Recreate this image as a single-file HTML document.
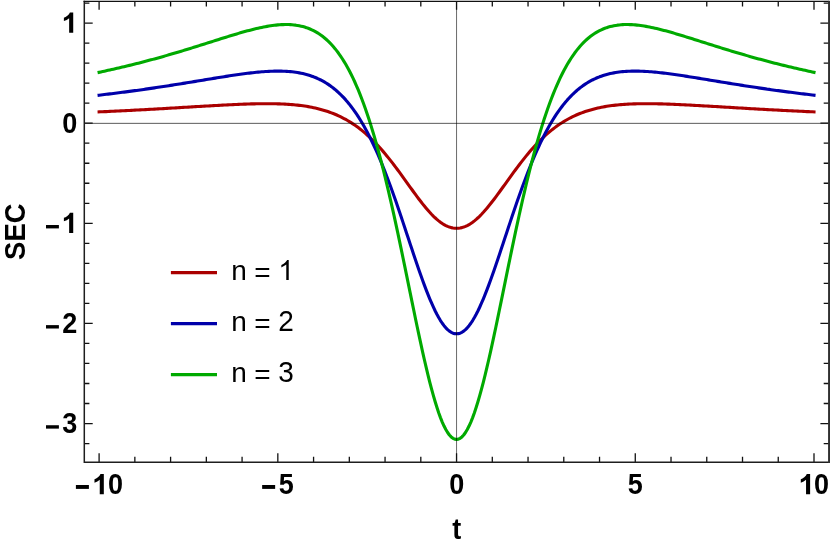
<!DOCTYPE html>
<html><head><meta charset="utf-8"><title>SEC plot</title>
<style>html,body{margin:0;padding:0;background:#fff}svg{display:block;will-change:transform}text{font-family:"Liberation Sans",sans-serif;font-size:28px;fill:#000}.b{font-weight:bold}</style></head><body>
<svg width="830" height="545" viewBox="0 0 830 545">
<rect width="830" height="545" fill="#fff"/>
<path d="M99.10,111.91 L100.89,111.82 L102.67,111.74 L104.46,111.66 L106.25,111.58 L108.04,111.49 L109.82,111.41 L111.61,111.32 L113.40,111.24 L115.19,111.15 L116.97,111.06 L118.76,110.98 L120.55,110.89 L122.33,110.80 L124.12,110.71 L125.91,110.62 L127.70,110.53 L129.48,110.44 L131.27,110.34 L133.06,110.25 L134.85,110.16 L136.63,110.06 L138.42,109.97 L140.21,109.87 L141.99,109.77 L143.78,109.68 L145.57,109.58 L147.36,109.48 L149.14,109.38 L150.93,109.28 L152.72,109.18 L154.50,109.08 L156.29,108.98 L158.08,108.88 L159.87,108.78 L161.65,108.68 L163.44,108.58 L165.23,108.47 L167.02,108.37 L168.80,108.26 L170.59,108.16 L172.38,108.05 L174.16,107.95 L175.95,107.84 L177.74,107.74 L179.53,107.63 L181.31,107.53 L183.10,107.42 L184.89,107.31 L186.68,107.21 L188.46,107.10 L190.25,106.99 L192.04,106.89 L193.82,106.78 L195.61,106.67 L197.40,106.57 L199.19,106.46 L200.97,106.36 L202.76,106.25 L204.55,106.15 L206.34,106.04 L208.12,105.94 L209.91,105.84 L211.70,105.73 L213.48,105.63 L215.27,105.53 L217.06,105.43 L218.85,105.34 L220.63,105.24 L222.42,105.14 L224.21,105.05 L225.99,104.96 L227.78,104.87 L229.57,104.78 L231.36,104.69 L233.14,104.61 L234.93,104.52 L236.72,104.44 L238.51,104.37 L240.29,104.29 L242.08,104.22 L243.87,104.16 L245.65,104.09 L247.44,104.03 L249.23,103.97 L251.02,103.92 L252.80,103.87 L254.59,103.83 L256.38,103.79 L258.17,103.76 L259.95,103.73 L261.74,103.71 L263.53,103.69 L265.31,103.69 L267.10,103.68 L268.89,103.69 L270.68,103.70 L272.46,103.72 L274.25,103.75 L276.04,103.79 L277.83,103.84 L279.61,103.90 L281.40,103.96 L283.19,104.04 L284.97,104.13 L286.76,104.24 L288.55,104.35 L290.34,104.48 L292.12,104.62 L293.91,104.78 L295.70,104.95 L297.48,105.14 L299.27,105.34 L301.06,105.56 L302.85,105.80 L304.63,106.06 L306.42,106.34 L308.21,106.64 L310.00,106.96 L311.78,107.30 L313.57,107.67 L315.36,108.06 L317.14,108.48 L318.93,108.92 L320.72,109.39 L322.51,109.89 L324.29,110.42 L326.08,110.98 L327.87,111.57 L329.66,112.19 L331.44,112.85 L333.23,113.54 L335.02,114.27 L336.80,115.04 L338.59,115.84 L340.38,116.69 L342.17,117.58 L343.95,118.51 L345.74,119.48 L347.53,120.50 L349.32,121.56 L351.10,122.68 L352.89,123.84 L354.68,125.05 L356.46,126.31 L358.25,127.62 L360.04,128.98 L361.83,130.39 L363.61,131.86 L365.40,133.39 L367.19,134.97 L368.97,136.60 L370.76,138.29 L372.55,140.03 L374.34,141.83 L376.12,143.68 L377.91,145.58 L379.70,147.54 L381.49,149.56 L383.27,151.62 L385.06,153.73 L386.85,155.89 L388.63,158.10 L390.42,160.35 L392.21,162.64 L394.00,164.97 L395.78,167.34 L397.57,169.74 L399.36,172.16 L401.15,174.61 L402.93,177.07 L404.72,179.55 L406.51,182.04 L408.29,184.54 L410.08,187.03 L411.87,189.51 L413.66,191.97 L415.44,194.42 L417.23,196.83 L419.02,199.21 L420.81,201.55 L422.59,203.83 L424.38,206.06 L426.17,208.22 L427.95,210.30 L429.74,212.31 L431.53,214.23 L433.32,216.05 L435.10,217.77 L436.89,219.38 L438.68,220.87 L440.46,222.25 L442.25,223.49 L444.04,224.60 L445.83,225.57 L447.61,226.40 L449.40,227.09 L451.19,227.62 L452.98,228.01 L454.76,228.24 L456.55,228.32 L458.34,228.24 L460.12,228.01 L461.91,227.62 L463.70,227.09 L465.49,226.40 L467.27,225.57 L469.06,224.60 L470.85,223.49 L472.64,222.25 L474.42,220.87 L476.21,219.38 L478.00,217.77 L479.78,216.05 L481.57,214.23 L483.36,212.31 L485.15,210.30 L486.93,208.22 L488.72,206.06 L490.51,203.83 L492.30,201.55 L494.08,199.21 L495.87,196.83 L497.66,194.42 L499.44,191.97 L501.23,189.51 L503.02,187.03 L504.81,184.54 L506.59,182.04 L508.38,179.55 L510.17,177.07 L511.95,174.61 L513.74,172.16 L515.53,169.74 L517.32,167.34 L519.10,164.97 L520.89,162.64 L522.68,160.35 L524.47,158.10 L526.25,155.89 L528.04,153.73 L529.83,151.62 L531.61,149.56 L533.40,147.54 L535.19,145.58 L536.98,143.68 L538.76,141.83 L540.55,140.03 L542.34,138.29 L544.13,136.60 L545.91,134.97 L547.70,133.39 L549.49,131.86 L551.27,130.39 L553.06,128.98 L554.85,127.62 L556.64,126.31 L558.42,125.05 L560.21,123.84 L562.00,122.68 L563.78,121.56 L565.57,120.50 L567.36,119.48 L569.15,118.51 L570.93,117.58 L572.72,116.69 L574.51,115.84 L576.30,115.04 L578.08,114.27 L579.87,113.54 L581.66,112.85 L583.44,112.19 L585.23,111.57 L587.02,110.98 L588.81,110.42 L590.59,109.89 L592.38,109.39 L594.17,108.92 L595.96,108.48 L597.74,108.06 L599.53,107.67 L601.32,107.30 L603.10,106.96 L604.89,106.64 L606.68,106.34 L608.47,106.06 L610.25,105.80 L612.04,105.56 L613.83,105.34 L615.62,105.14 L617.40,104.95 L619.19,104.78 L620.98,104.62 L622.76,104.48 L624.55,104.35 L626.34,104.24 L628.13,104.13 L629.91,104.04 L631.70,103.96 L633.49,103.90 L635.27,103.84 L637.06,103.79 L638.85,103.75 L640.64,103.72 L642.42,103.70 L644.21,103.69 L646.00,103.68 L647.79,103.69 L649.57,103.69 L651.36,103.71 L653.15,103.73 L654.93,103.76 L656.72,103.79 L658.51,103.83 L660.30,103.87 L662.08,103.92 L663.87,103.97 L665.66,104.03 L667.45,104.09 L669.23,104.16 L671.02,104.22 L672.81,104.29 L674.59,104.37 L676.38,104.44 L678.17,104.52 L679.96,104.61 L681.74,104.69 L683.53,104.78 L685.32,104.87 L687.11,104.96 L688.89,105.05 L690.68,105.14 L692.47,105.24 L694.25,105.34 L696.04,105.43 L697.83,105.53 L699.62,105.63 L701.40,105.73 L703.19,105.84 L704.98,105.94 L706.76,106.04 L708.55,106.15 L710.34,106.25 L712.13,106.36 L713.91,106.46 L715.70,106.57 L717.49,106.67 L719.28,106.78 L721.06,106.89 L722.85,106.99 L724.64,107.10 L726.42,107.21 L728.21,107.31 L730.00,107.42 L731.79,107.53 L733.57,107.63 L735.36,107.74 L737.15,107.84 L738.94,107.95 L740.72,108.05 L742.51,108.16 L744.30,108.26 L746.08,108.37 L747.87,108.47 L749.66,108.58 L751.45,108.68 L753.23,108.78 L755.02,108.88 L756.81,108.98 L758.60,109.08 L760.38,109.18 L762.17,109.28 L763.96,109.38 L765.74,109.48 L767.53,109.58 L769.32,109.68 L771.11,109.77 L772.89,109.87 L774.68,109.97 L776.47,110.06 L778.25,110.16 L780.04,110.25 L781.83,110.34 L783.62,110.44 L785.40,110.53 L787.19,110.62 L788.98,110.71 L790.77,110.80 L792.55,110.89 L794.34,110.98 L796.13,111.06 L797.91,111.15 L799.70,111.24 L801.49,111.32 L803.28,111.41 L805.06,111.49 L806.85,111.58 L808.64,111.66 L810.43,111.74 L812.21,111.82 L814.00,111.91" fill="none" stroke="#aa0000" stroke-width="3.1" stroke-linejoin="round" stroke-linecap="square"/>
<path d="M99.10,95.18 L100.89,94.97 L102.67,94.76 L104.46,94.55 L106.25,94.33 L108.04,94.12 L109.82,93.90 L111.61,93.68 L113.40,93.46 L115.19,93.24 L116.97,93.01 L118.76,92.79 L120.55,92.56 L122.33,92.33 L124.12,92.10 L125.91,91.86 L127.70,91.63 L129.48,91.39 L131.27,91.15 L133.06,90.91 L134.85,90.66 L136.63,90.42 L138.42,90.17 L140.21,89.92 L141.99,89.67 L143.78,89.41 L145.57,89.16 L147.36,88.90 L149.14,88.64 L150.93,88.38 L152.72,88.12 L154.50,87.85 L156.29,87.59 L158.08,87.32 L159.87,87.05 L161.65,86.78 L163.44,86.51 L165.23,86.23 L167.02,85.96 L168.80,85.68 L170.59,85.40 L172.38,85.12 L174.16,84.83 L175.95,84.55 L177.74,84.27 L179.53,83.98 L181.31,83.69 L183.10,83.40 L184.89,83.11 L186.68,82.82 L188.46,82.53 L190.25,82.24 L192.04,81.94 L193.82,81.65 L195.61,81.35 L197.40,81.06 L199.19,80.76 L200.97,80.47 L202.76,80.17 L204.55,79.88 L206.34,79.58 L208.12,79.29 L209.91,78.99 L211.70,78.70 L213.48,78.40 L215.27,78.11 L217.06,77.82 L218.85,77.53 L220.63,77.24 L222.42,76.96 L224.21,76.67 L225.99,76.39 L227.78,76.12 L229.57,75.84 L231.36,75.57 L233.14,75.30 L234.93,75.03 L236.72,74.77 L238.51,74.52 L240.29,74.27 L242.08,74.02 L243.87,73.78 L245.65,73.55 L247.44,73.32 L249.23,73.11 L251.02,72.89 L252.80,72.69 L254.59,72.50 L256.38,72.31 L258.17,72.14 L259.95,71.98 L261.74,71.82 L263.53,71.68 L265.31,71.56 L267.10,71.44 L268.89,71.34 L270.68,71.26 L272.46,71.19 L274.25,71.14 L276.04,71.11 L277.83,71.10 L279.61,71.10 L281.40,71.13 L283.19,71.18 L284.97,71.26 L286.76,71.36 L288.55,71.48 L290.34,71.63 L292.12,71.82 L293.91,72.03 L295.70,72.27 L297.48,72.55 L299.27,72.86 L301.06,73.21 L302.85,73.59 L304.63,74.02 L306.42,74.49 L308.21,75.00 L310.00,75.56 L311.78,76.17 L313.57,76.82 L315.36,77.53 L317.14,78.29 L318.93,79.11 L320.72,79.99 L322.51,80.93 L324.29,81.93 L326.08,83.00 L327.87,84.14 L329.66,85.35 L331.44,86.64 L333.23,88.00 L335.02,89.44 L336.80,90.97 L338.59,92.57 L340.38,94.27 L342.17,96.06 L343.95,97.94 L345.74,99.91 L347.53,101.99 L349.32,104.17 L351.10,106.45 L352.89,108.83 L354.68,111.33 L356.46,113.94 L358.25,116.66 L360.04,119.49 L361.83,122.45 L363.61,125.52 L365.40,128.71 L367.19,132.03 L368.97,135.46 L370.76,139.02 L372.55,142.71 L374.34,146.51 L376.12,150.44 L377.91,154.49 L379.70,158.66 L381.49,162.95 L383.27,167.35 L385.06,171.87 L386.85,176.50 L388.63,181.23 L390.42,186.06 L392.21,190.99 L394.00,196.00 L395.78,201.09 L397.57,206.26 L399.36,211.50 L401.15,216.79 L402.93,222.12 L404.72,227.49 L406.51,232.89 L408.29,238.29 L410.08,243.70 L411.87,249.09 L413.66,254.45 L415.44,259.76 L417.23,265.02 L419.02,270.20 L420.81,275.29 L422.59,280.27 L424.38,285.13 L426.17,289.85 L427.95,294.41 L429.74,298.79 L431.53,302.98 L433.32,306.97 L435.10,310.73 L436.89,314.25 L438.68,317.53 L440.46,320.53 L442.25,323.25 L444.04,325.69 L445.83,327.82 L447.61,329.64 L449.40,331.14 L451.19,332.31 L452.98,333.16 L454.76,333.66 L456.55,333.83 L458.34,333.66 L460.12,333.16 L461.91,332.31 L463.70,331.14 L465.49,329.64 L467.27,327.82 L469.06,325.69 L470.85,323.25 L472.64,320.53 L474.42,317.53 L476.21,314.25 L478.00,310.73 L479.78,306.97 L481.57,302.98 L483.36,298.79 L485.15,294.41 L486.93,289.85 L488.72,285.13 L490.51,280.27 L492.30,275.29 L494.08,270.20 L495.87,265.02 L497.66,259.76 L499.44,254.45 L501.23,249.09 L503.02,243.70 L504.81,238.29 L506.59,232.89 L508.38,227.49 L510.17,222.12 L511.95,216.79 L513.74,211.50 L515.53,206.26 L517.32,201.09 L519.10,196.00 L520.89,190.99 L522.68,186.06 L524.47,181.23 L526.25,176.50 L528.04,171.87 L529.83,167.35 L531.61,162.95 L533.40,158.66 L535.19,154.49 L536.98,150.44 L538.76,146.51 L540.55,142.71 L542.34,139.02 L544.13,135.46 L545.91,132.03 L547.70,128.71 L549.49,125.52 L551.27,122.45 L553.06,119.49 L554.85,116.66 L556.64,113.94 L558.42,111.33 L560.21,108.83 L562.00,106.45 L563.78,104.17 L565.57,101.99 L567.36,99.91 L569.15,97.94 L570.93,96.06 L572.72,94.27 L574.51,92.57 L576.30,90.97 L578.08,89.44 L579.87,88.00 L581.66,86.64 L583.44,85.35 L585.23,84.14 L587.02,83.00 L588.81,81.93 L590.59,80.93 L592.38,79.99 L594.17,79.11 L595.96,78.29 L597.74,77.53 L599.53,76.82 L601.32,76.17 L603.10,75.56 L604.89,75.00 L606.68,74.49 L608.47,74.02 L610.25,73.59 L612.04,73.21 L613.83,72.86 L615.62,72.55 L617.40,72.27 L619.19,72.03 L620.98,71.82 L622.76,71.63 L624.55,71.48 L626.34,71.36 L628.13,71.26 L629.91,71.18 L631.70,71.13 L633.49,71.10 L635.27,71.10 L637.06,71.11 L638.85,71.14 L640.64,71.19 L642.42,71.26 L644.21,71.34 L646.00,71.44 L647.79,71.56 L649.57,71.68 L651.36,71.82 L653.15,71.98 L654.93,72.14 L656.72,72.31 L658.51,72.50 L660.30,72.69 L662.08,72.89 L663.87,73.11 L665.66,73.32 L667.45,73.55 L669.23,73.78 L671.02,74.02 L672.81,74.27 L674.59,74.52 L676.38,74.77 L678.17,75.03 L679.96,75.30 L681.74,75.57 L683.53,75.84 L685.32,76.12 L687.11,76.39 L688.89,76.67 L690.68,76.96 L692.47,77.24 L694.25,77.53 L696.04,77.82 L697.83,78.11 L699.62,78.40 L701.40,78.70 L703.19,78.99 L704.98,79.29 L706.76,79.58 L708.55,79.88 L710.34,80.17 L712.13,80.47 L713.91,80.76 L715.70,81.06 L717.49,81.35 L719.28,81.65 L721.06,81.94 L722.85,82.24 L724.64,82.53 L726.42,82.82 L728.21,83.11 L730.00,83.40 L731.79,83.69 L733.57,83.98 L735.36,84.27 L737.15,84.55 L738.94,84.83 L740.72,85.12 L742.51,85.40 L744.30,85.68 L746.08,85.96 L747.87,86.23 L749.66,86.51 L751.45,86.78 L753.23,87.05 L755.02,87.32 L756.81,87.59 L758.60,87.85 L760.38,88.12 L762.17,88.38 L763.96,88.64 L765.74,88.90 L767.53,89.16 L769.32,89.41 L771.11,89.67 L772.89,89.92 L774.68,90.17 L776.47,90.42 L778.25,90.66 L780.04,90.91 L781.83,91.15 L783.62,91.39 L785.40,91.63 L787.19,91.86 L788.98,92.10 L790.77,92.33 L792.55,92.56 L794.34,92.79 L796.13,93.01 L797.91,93.24 L799.70,93.46 L801.49,93.68 L803.28,93.90 L805.06,94.12 L806.85,94.33 L808.64,94.55 L810.43,94.76 L812.21,94.97 L814.00,95.18" fill="none" stroke="#0000aa" stroke-width="3.1" stroke-linejoin="round" stroke-linecap="square"/>
<path d="M99.10,72.29 L100.89,71.91 L102.67,71.53 L104.46,71.14 L106.25,70.75 L108.04,70.36 L109.82,69.97 L111.61,69.57 L113.40,69.16 L115.19,68.76 L116.97,68.35 L118.76,67.93 L120.55,67.52 L122.33,67.10 L124.12,66.67 L125.91,66.24 L127.70,65.81 L129.48,65.38 L131.27,64.94 L133.06,64.49 L134.85,64.05 L136.63,63.60 L138.42,63.14 L140.21,62.68 L141.99,62.22 L143.78,61.76 L145.57,61.29 L147.36,60.81 L149.14,60.34 L150.93,59.86 L152.72,59.37 L154.50,58.89 L156.29,58.39 L158.08,57.90 L159.87,57.40 L161.65,56.90 L163.44,56.39 L165.23,55.88 L167.02,55.37 L168.80,54.86 L170.59,54.34 L172.38,53.81 L174.16,53.29 L175.95,52.76 L177.74,52.23 L179.53,51.69 L181.31,51.15 L183.10,50.61 L184.89,50.07 L186.68,49.52 L188.46,48.97 L190.25,48.42 L192.04,47.87 L193.82,47.31 L195.61,46.76 L197.40,46.20 L199.19,45.64 L200.97,45.07 L202.76,44.51 L204.55,43.94 L206.34,43.38 L208.12,42.81 L209.91,42.25 L211.70,41.68 L213.48,41.11 L215.27,40.55 L217.06,39.98 L218.85,39.41 L220.63,38.85 L222.42,38.29 L224.21,37.73 L225.99,37.17 L227.78,36.62 L229.57,36.07 L231.36,35.52 L233.14,34.98 L234.93,34.44 L236.72,33.91 L238.51,33.38 L240.29,32.86 L242.08,32.35 L243.87,31.84 L245.65,31.35 L247.44,30.86 L249.23,30.38 L251.02,29.92 L252.80,29.46 L254.59,29.02 L256.38,28.59 L258.17,28.18 L259.95,27.78 L261.74,27.40 L263.53,27.03 L265.31,26.69 L267.10,26.36 L268.89,26.06 L270.68,25.78 L272.46,25.52 L274.25,25.29 L276.04,25.09 L277.83,24.91 L279.61,24.77 L281.40,24.66 L283.19,24.58 L284.97,24.54 L286.76,24.53 L288.55,24.57 L290.34,24.65 L292.12,24.77 L293.91,24.94 L295.70,25.16 L297.48,25.43 L299.27,25.75 L301.06,26.14 L302.85,26.58 L304.63,27.08 L306.42,27.66 L308.21,28.30 L310.00,29.01 L311.78,29.80 L313.57,30.66 L315.36,31.61 L317.14,32.65 L318.93,33.78 L320.72,35.00 L322.51,36.31 L324.29,37.73 L326.08,39.26 L327.87,40.90 L329.66,42.65 L331.44,44.52 L333.23,46.51 L335.02,48.63 L336.80,50.89 L338.59,53.28 L340.38,55.82 L342.17,58.50 L343.95,61.33 L345.74,64.32 L347.53,67.47 L349.32,70.78 L351.10,74.26 L352.89,77.92 L354.68,81.76 L356.46,85.78 L358.25,89.98 L360.04,94.37 L361.83,98.96 L363.61,103.74 L365.40,108.73 L367.19,113.91 L368.97,119.29 L370.76,124.88 L372.55,130.67 L374.34,136.67 L376.12,142.87 L377.91,149.28 L379.70,155.89 L381.49,162.69 L383.27,169.69 L385.06,176.88 L386.85,184.26 L388.63,191.81 L390.42,199.53 L392.21,207.42 L394.00,215.46 L395.78,223.63 L397.57,231.94 L399.36,240.36 L401.15,248.88 L402.93,257.49 L404.72,266.16 L406.51,274.88 L408.29,283.62 L410.08,292.37 L411.87,301.11 L413.66,309.81 L415.44,318.44 L417.23,326.98 L419.02,335.41 L420.81,343.70 L422.59,351.81 L424.38,359.73 L426.17,367.43 L427.95,374.87 L429.74,382.03 L431.53,388.88 L433.32,395.40 L435.10,401.55 L436.89,407.32 L438.68,412.68 L440.46,417.60 L442.25,422.06 L444.04,426.05 L445.83,429.54 L447.61,432.53 L449.40,434.99 L451.19,436.92 L452.98,438.30 L454.76,439.13 L456.55,439.41 L458.34,439.13 L460.12,438.30 L461.91,436.92 L463.70,434.99 L465.49,432.53 L467.27,429.54 L469.06,426.05 L470.85,422.06 L472.64,417.60 L474.42,412.68 L476.21,407.32 L478.00,401.55 L479.78,395.40 L481.57,388.88 L483.36,382.03 L485.15,374.87 L486.93,367.43 L488.72,359.73 L490.51,351.81 L492.30,343.70 L494.08,335.41 L495.87,326.98 L497.66,318.44 L499.44,309.81 L501.23,301.11 L503.02,292.37 L504.81,283.62 L506.59,274.88 L508.38,266.16 L510.17,257.49 L511.95,248.88 L513.74,240.36 L515.53,231.94 L517.32,223.63 L519.10,215.46 L520.89,207.42 L522.68,199.53 L524.47,191.81 L526.25,184.26 L528.04,176.88 L529.83,169.69 L531.61,162.69 L533.40,155.89 L535.19,149.28 L536.98,142.87 L538.76,136.67 L540.55,130.67 L542.34,124.88 L544.13,119.29 L545.91,113.91 L547.70,108.73 L549.49,103.74 L551.27,98.96 L553.06,94.37 L554.85,89.98 L556.64,85.78 L558.42,81.76 L560.21,77.92 L562.00,74.26 L563.78,70.78 L565.57,67.47 L567.36,64.32 L569.15,61.33 L570.93,58.50 L572.72,55.82 L574.51,53.28 L576.30,50.89 L578.08,48.63 L579.87,46.51 L581.66,44.52 L583.44,42.65 L585.23,40.90 L587.02,39.26 L588.81,37.73 L590.59,36.31 L592.38,35.00 L594.17,33.78 L595.96,32.65 L597.74,31.61 L599.53,30.66 L601.32,29.80 L603.10,29.01 L604.89,28.30 L606.68,27.66 L608.47,27.08 L610.25,26.58 L612.04,26.14 L613.83,25.75 L615.62,25.43 L617.40,25.16 L619.19,24.94 L620.98,24.77 L622.76,24.65 L624.55,24.57 L626.34,24.53 L628.13,24.54 L629.91,24.58 L631.70,24.66 L633.49,24.77 L635.27,24.91 L637.06,25.09 L638.85,25.29 L640.64,25.52 L642.42,25.78 L644.21,26.06 L646.00,26.36 L647.79,26.69 L649.57,27.03 L651.36,27.40 L653.15,27.78 L654.93,28.18 L656.72,28.59 L658.51,29.02 L660.30,29.46 L662.08,29.92 L663.87,30.38 L665.66,30.86 L667.45,31.35 L669.23,31.84 L671.02,32.35 L672.81,32.86 L674.59,33.38 L676.38,33.91 L678.17,34.44 L679.96,34.98 L681.74,35.52 L683.53,36.07 L685.32,36.62 L687.11,37.17 L688.89,37.73 L690.68,38.29 L692.47,38.85 L694.25,39.41 L696.04,39.98 L697.83,40.55 L699.62,41.11 L701.40,41.68 L703.19,42.25 L704.98,42.81 L706.76,43.38 L708.55,43.94 L710.34,44.51 L712.13,45.07 L713.91,45.64 L715.70,46.20 L717.49,46.76 L719.28,47.31 L721.06,47.87 L722.85,48.42 L724.64,48.97 L726.42,49.52 L728.21,50.07 L730.00,50.61 L731.79,51.15 L733.57,51.69 L735.36,52.23 L737.15,52.76 L738.94,53.29 L740.72,53.81 L742.51,54.34 L744.30,54.86 L746.08,55.37 L747.87,55.88 L749.66,56.39 L751.45,56.90 L753.23,57.40 L755.02,57.90 L756.81,58.39 L758.60,58.89 L760.38,59.37 L762.17,59.86 L763.96,60.34 L765.74,60.81 L767.53,61.29 L769.32,61.76 L771.11,62.22 L772.89,62.68 L774.68,63.14 L776.47,63.60 L778.25,64.05 L780.04,64.49 L781.83,64.94 L783.62,65.38 L785.40,65.81 L787.19,66.24 L788.98,66.67 L790.77,67.10 L792.55,67.52 L794.34,67.93 L796.13,68.35 L797.91,68.76 L799.70,69.16 L801.49,69.57 L803.28,69.97 L805.06,70.36 L806.85,70.75 L808.64,71.14 L810.43,71.53 L812.21,71.91 L814.00,72.29" fill="none" stroke="#00aa00" stroke-width="3.1" stroke-linejoin="round" stroke-linecap="square"/>
<path d="M84.3 123.35H828.8" stroke="#000" stroke-opacity="0.65" stroke-width="1" fill="none"/>
<path d="M456.55 1.4V462.25" stroke="#000" stroke-opacity="0.65" stroke-width="0.9" fill="none"/>
<path d="M99.10 462.25v-9.0M99.10 1.4v8.4M134.85 462.25v-5.5M134.85 1.4v5.1M170.59 462.25v-5.5M170.59 1.4v5.1M206.34 462.25v-5.5M206.34 1.4v5.1M242.08 462.25v-5.5M242.08 1.4v5.1M277.83 462.25v-9.0M277.83 1.4v8.4M313.57 462.25v-5.5M313.57 1.4v5.1M349.32 462.25v-5.5M349.32 1.4v5.1M385.06 462.25v-5.5M385.06 1.4v5.1M420.81 462.25v-5.5M420.81 1.4v5.1M456.55 462.25v-9.0M456.55 1.4v8.4M492.30 462.25v-5.5M492.30 1.4v5.1M528.04 462.25v-5.5M528.04 1.4v5.1M563.78 462.25v-5.5M563.78 1.4v5.1M599.53 462.25v-5.5M599.53 1.4v5.1M635.27 462.25v-9.0M635.27 1.4v8.4M671.02 462.25v-5.5M671.02 1.4v5.1M706.76 462.25v-5.5M706.76 1.4v5.1M742.51 462.25v-5.5M742.51 1.4v5.1M778.25 462.25v-5.5M778.25 1.4v5.1M814.00 462.25v-9.0M814.00 1.4v8.4M84.3 443.55h5.1M828.8 443.55h-5.1M84.3 423.53h8.4M828.8 423.53h-8.4M84.3 403.51h5.1M828.8 403.51h-5.1M84.3 383.49h5.1M828.8 383.49h-5.1M84.3 363.46h5.1M828.8 363.46h-5.1M84.3 343.44h5.1M828.8 343.44h-5.1M84.3 323.42h8.4M828.8 323.42h-8.4M84.3 303.40h5.1M828.8 303.40h-5.1M84.3 283.38h5.1M828.8 283.38h-5.1M84.3 263.35h5.1M828.8 263.35h-5.1M84.3 243.33h5.1M828.8 243.33h-5.1M84.3 223.31h8.4M828.8 223.31h-8.4M84.3 203.29h5.1M828.8 203.29h-5.1M84.3 183.27h5.1M828.8 183.27h-5.1M84.3 163.24h5.1M828.8 163.24h-5.1M84.3 143.22h5.1M828.8 143.22h-5.1M84.3 123.20h8.4M828.8 123.20h-8.4M84.3 103.18h5.1M828.8 103.18h-5.1M84.3 83.16h5.1M828.8 83.16h-5.1M84.3 63.13h5.1M828.8 63.13h-5.1M84.3 43.11h5.1M828.8 43.11h-5.1M84.3 23.09h8.4M828.8 23.09h-8.4M84.3 3.07h5.1M828.8 3.07h-5.1" stroke="#111" stroke-width="1.3" fill="none"/>
<path d="M84.3 0.80V463.00M84.3 462.25H828.8" fill="none" stroke="#1e1e1e" stroke-width="1.5"/>
<path d="M83.55 1.4H828.8" fill="none" stroke="#111" stroke-width="1.25"/>
<rect x="828.07" y="0.78" width="1.93" height="462.22" fill="#303030"/>
<path d="M806 0H525V1059Q371 915 162 846V1101Q272 1137 401 1237.5Q530 1338 578 1472H806Z" transform="translate(61.54 32.69) scale(0.014492 -0.013672)"/>
<text class="b" transform="translate(62.30 132.80) scale(0.965 1.04)">0</text>
<rect x="46.00" y="225.01" width="12.9" height="3.4"/>
<path d="M806 0H525V1059Q371 915 162 846V1101Q272 1137 401 1237.5Q530 1338 578 1472H806Z" transform="translate(61.54 232.91) scale(0.014492 -0.013672)"/>
<rect x="46.00" y="325.12" width="12.9" height="3.4"/>
<text class="b" transform="translate(62.30 333.02) scale(0.965 1.04)">2</text>
<rect x="46.00" y="425.23" width="12.9" height="3.4"/>
<text class="b" transform="translate(62.30 433.13) scale(0.965 1.04)">3</text>
<rect x="75.90" y="485.00" width="13.0" height="3.9"/>
<path d="M806 0H525V1059Q371 915 162 846V1101Q272 1137 401 1237.5Q530 1338 578 1472H806Z" transform="translate(92.14 494.20) scale(0.014492 -0.013672)"/>
<text class="b" transform="translate(108.10 494.20) scale(0.965 1.04)">0</text>
<rect x="262.15" y="485.00" width="13.0" height="3.9"/>
<text class="b" transform="translate(278.80 494.20) scale(0.965 1.04)">5</text>
<text class="b" transform="translate(449.20 494.20) scale(0.965 1.04)">0</text>
<text class="b" transform="translate(627.77 494.20) scale(0.965 1.04)">5</text>
<path d="M806 0H525V1059Q371 915 162 846V1101Q272 1137 401 1237.5Q530 1338 578 1472H806Z" transform="translate(798.44 494.20) scale(0.014492 -0.013672)"/>
<text class="b" transform="translate(814.10 494.20) scale(0.965 1.04)">0</text>
<text class="b" transform="translate(452.25 539.05) scale(0.965 1.04)">t</text>
<text class="b" transform="translate(24.9 231.7) rotate(-90) scale(0.98 1.04)" text-anchor="middle">SEC</text>
<path d="M170.9 272.60H217" stroke="#aa0000" stroke-width="3.3" fill="none"/>
<text x="231.2" y="280.10">n</text>
<text x="254.15" y="281.95">=</text>
<path d="M763 0H583V1147Q518 1085 412.5 1023Q307 961 223 930V1104Q374 1175 487 1276Q600 1377 647 1472H763Z" transform="translate(278.30 280.10) scale(0.013672 -0.013672)"/>
<path d="M170.9 323.60H217" stroke="#0000aa" stroke-width="3.3" fill="none"/>
<text x="231.2" y="331.10">n</text>
<text x="254.15" y="332.95">=</text>
<text transform="translate(278.28 331.10) scale(1 1.04)">2</text>
<path d="M170.9 374.60H217" stroke="#00aa00" stroke-width="3.3" fill="none"/>
<text x="231.2" y="382.10">n</text>
<text x="254.15" y="383.95">=</text>
<text transform="translate(278.28 382.10) scale(1 1.04)">3</text>
</svg></body></html>
